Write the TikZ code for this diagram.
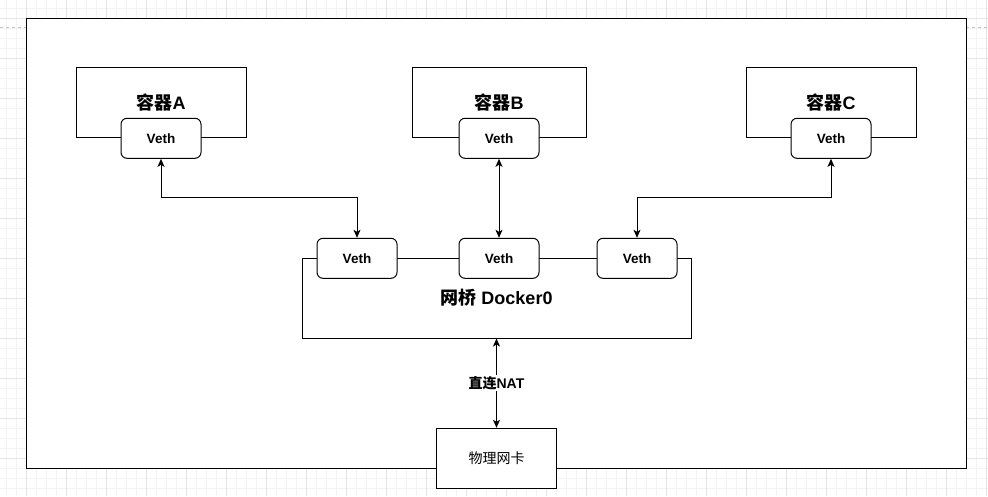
\documentclass[tikz,border=0pt]{standalone}
\usepackage{fontspec}
\setmainfont{Liberation Sans}
\newfontfamily\cjk{Noto Sans CJK SC}
\usetikzlibrary{positioning,arrows.meta}

\definecolor{gridminor}{HTML}{F3F3F3}
\definecolor{gridmajor}{HTML}{E4E4E4}
\definecolor{pageline}{HTML}{C4C4C4}

\tikzset{
  hostbox/.style={draw,fill=white,line width=1pt,minimum width=940pt,minimum height=450pt},
  ctbox/.style={draw,fill=white,line width=1pt,minimum width=170pt,minimum height=70pt,
    font=\bfseries\fontsize{18}{20}\selectfont},
  vethbox/.style={draw,fill=white,rounded corners=6pt,line width=1pt,minimum width=80pt,
    minimum height=40pt,font=\bfseries\fontsize{13.5}{15}\selectfont},
  bridgebox/.style={draw,fill=white,line width=1pt,minimum width=389pt,minimum height=80pt,
    font=\bfseries\fontsize{18}{20}\selectfont},
  nicbox/.style={draw,fill=white,line width=1pt,minimum width=120pt,minimum height=60pt,
    font=\fontsize{14}{16}\selectfont},
  link/.style={line width=1pt,{Stealth[length=8pt,width=7pt,inset=2pt]}-{Stealth[length=8pt,width=7pt,inset=2pt]}},
}

\begin{document}
\begin{tikzpicture}[x=1pt,y=-1pt]
	\useasboundingbox (0,0) rectangle (988,496);
	% canvas grid
	\foreach \gx in {6.7,16.7,...,986.7} \draw[gridminor,line width=0.6pt] (\gx,0) -- (\gx,496);
	\foreach \gy in {8.3,18.3,...,496} \draw[gridminor,line width=0.6pt] (0,\gy) -- (988,\gy);
	\foreach \gx in {26.7,66.7,...,986.7} \draw[gridmajor,line width=0.6pt] (\gx,0) -- (\gx,496);
	\foreach \gy in {18.3,58.3,...,496} \draw[gridmajor,line width=0.6pt] (0,\gy) -- (988,\gy);
	\draw[pageline,dashed,line width=0.8pt] (0,27.3) -- (988,27.3);

	% host frame
	\node[hostbox] (host) at (496.7,243.3) {};

	% containers
	\node[ctbox] (ctA) at (161,102.5) {{\cjk 容器}A};
	\node[ctbox,minimum width=174pt] (ctB) at (499,102.5) {{\cjk 容器}B};
	\node[ctbox] (ctC) at (831,102.5) {{\cjk 容器}C};
	\node[vethbox] (vethA) at (161,138.3) {Veth};
	\node[vethbox] (vethB) at (499,138.3) {Veth};
	\node[vethbox] (vethC) at (831,138.3) {Veth};

	% bridge
	\node[bridgebox] (bridge) at (496.5,298) {{\cjk 网桥} Docker0};
	\node[vethbox] (brA) at (357,258.3) {Veth};
	\node[vethbox] (brB) at (499,258.3) {Veth};
	\node[vethbox] (brC) at (637,258.3) {Veth};

	% physical nic
	\node[nicbox] (nic) at (496.5,458.3) {\cjk 物理网卡};

	\draw[link] (vethA.south) -- ++(0,39) -| (brA.north);
	\draw[link] (vethB.south) -- (brB.north);
	\draw[link] (vethC.south) -- ++(0,39) -| (brC.north);
	\draw[link] (bridge.south) -- (nic.north)
		node[midway,fill=white,inner sep=1pt,font=\bfseries\fontsize{14}{16}\selectfont] (nat) {{\cjk 直连}NAT};
\end{tikzpicture}
\end{document}
